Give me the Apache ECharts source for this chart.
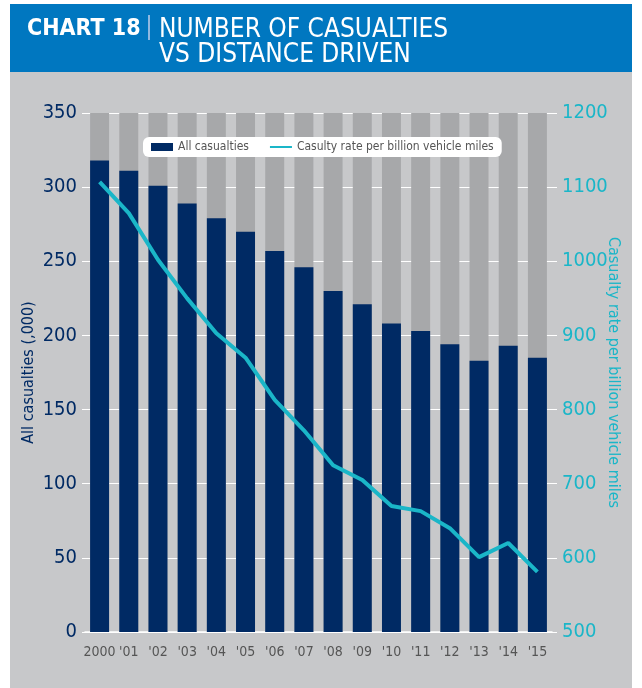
<!DOCTYPE html>
<html>
<head>
<meta charset="utf-8">
<script src="https://cdn.jsdelivr.net/npm/echarts@6/dist/echarts.min.js"></script>
<style>
  body { margin: 0; background: #fff; }
  #chart { width: 642px; height: 688px; }
</style>
</head>
<body>
<div id="chart"></div>
<script>
const years = ["2000", "'01", "'02", "'03", "'04", "'05", "'06", "'07", "'08", "'09", "'10", "'11", "'12", "'13", "'14", "'15"];
const casualties = [318, 311, 301, 289, 279, 270, 257, 246, 230, 221, 208, 203, 194, 183, 193, 185];
const ratePerBillion = [1107, 1065, 1002, 950, 903, 870, 813, 772, 725, 705, 670, 663, 640, 601, 620, 581];

const font = "'DejaVu Sans Condensed', 'DejaVu Sans', sans-serif";
const navy = "#002a64";
const cyan = "#1ab6c8";

const chart = echarts.init(document.getElementById("chart"));
chart.setOption({
  backgroundColor: "#fff",
  textStyle: { fontFamily: font },
  graphic: [
    { type: "rect", z: -10, shape: { x: 10, y: 72, width: 622, height: 616 }, style: { fill: "#c7c8ca" } },
    { type: "rect", z: -10, shape: { x: 10, y: 4, width: 622, height: 68 }, style: { fill: "#0077c0" } },
    { type: "text", left: 27, top: 18, style: { text: "CHART 18", fill: "#fff", font: "bold 23px " + font } },
    { type: "rect", shape: { x: 148, y: 15, width: 2, height: 25 }, style: { fill: "#8fb8e0" } },
    { type: "text", left: 159, top: 17, style: { text: "NUMBER OF CASUALTIES\nVS DISTANCE DRIVEN", fill: "#fff", font: "26px " + font, lineHeight: 25 } }
  ],
  legend: {
    left: 143,
    top: 137,
    backgroundColor: "#fff",
    borderRadius: 6,
    padding: [4, 8],
    itemGap: 20,
    itemWidth: 22,
    itemHeight: 8,
    textStyle: { color: "#555", fontSize: 12, fontFamily: font },
    data: [
      { name: "All casualties", icon: "rect" },
      { name: "Casulty rate per billion vehicle miles", itemStyle: { opacity: 0 } }
    ]
  },
  grid: { left: 85, top: 113, width: 467, height: 519, containLabel: false },
  xAxis: {
    type: "category",
    data: years,
    axisLine: { lineStyle: { color: "#fff", width: 1.5 } },
    axisTick: { show: false },
    axisLabel: { color: "#555", fontSize: 14, margin: 13, interval: 0 }
  },
  yAxis: [
    {
      type: "value",
      min: 0, max: 350, interval: 50,
      name: "All casualties (,000)",
      nameLocation: "middle",
      nameMoveOverlap: false,
      nameGap: 48,
      nameTextStyle: { color: navy, fontSize: 16 },
      axisLine: { show: false },
      axisTick: { show: true, length: 3, lineStyle: { color: "#fff" } },
      axisLabel: { color: navy, fontSize: 20, margin: 8 },
      splitLine: { lineStyle: { color: "#fff", width: 1 } }
    },
    {
      type: "value",
      min: 500, max: 1200, interval: 100,
      name: "Casualty rate per billion vehicle miles",
      nameLocation: "middle",
      nameMoveOverlap: false,
      nameGap: 53,
      nameRotate: -90,
      nameTextStyle: { color: cyan, fontSize: 16 },
      axisLine: { show: false },
      axisTick: { show: true, length: 5, lineStyle: { color: "#fff" } },
      axisLabel: { color: cyan, fontSize: 20, margin: 10, formatter: (v) => String(v) },
      splitLine: { show: false }
    }
  ],
  series: [
    {
      name: "All casualties",
      type: "bar",
      data: casualties,
      barWidth: "65%",
      itemStyle: { color: navy },
      showBackground: true,
      backgroundStyle: { color: "#a7a8aa" }
    },
    {
      name: "Casulty rate per billion vehicle miles",
      type: "line",
      yAxisIndex: 1,
      data: ratePerBillion,
      symbol: "none",
      lineStyle: { color: cyan, width: 4 },
      itemStyle: { color: cyan }
    }
  ]
});
</script>
</body>
</html>
